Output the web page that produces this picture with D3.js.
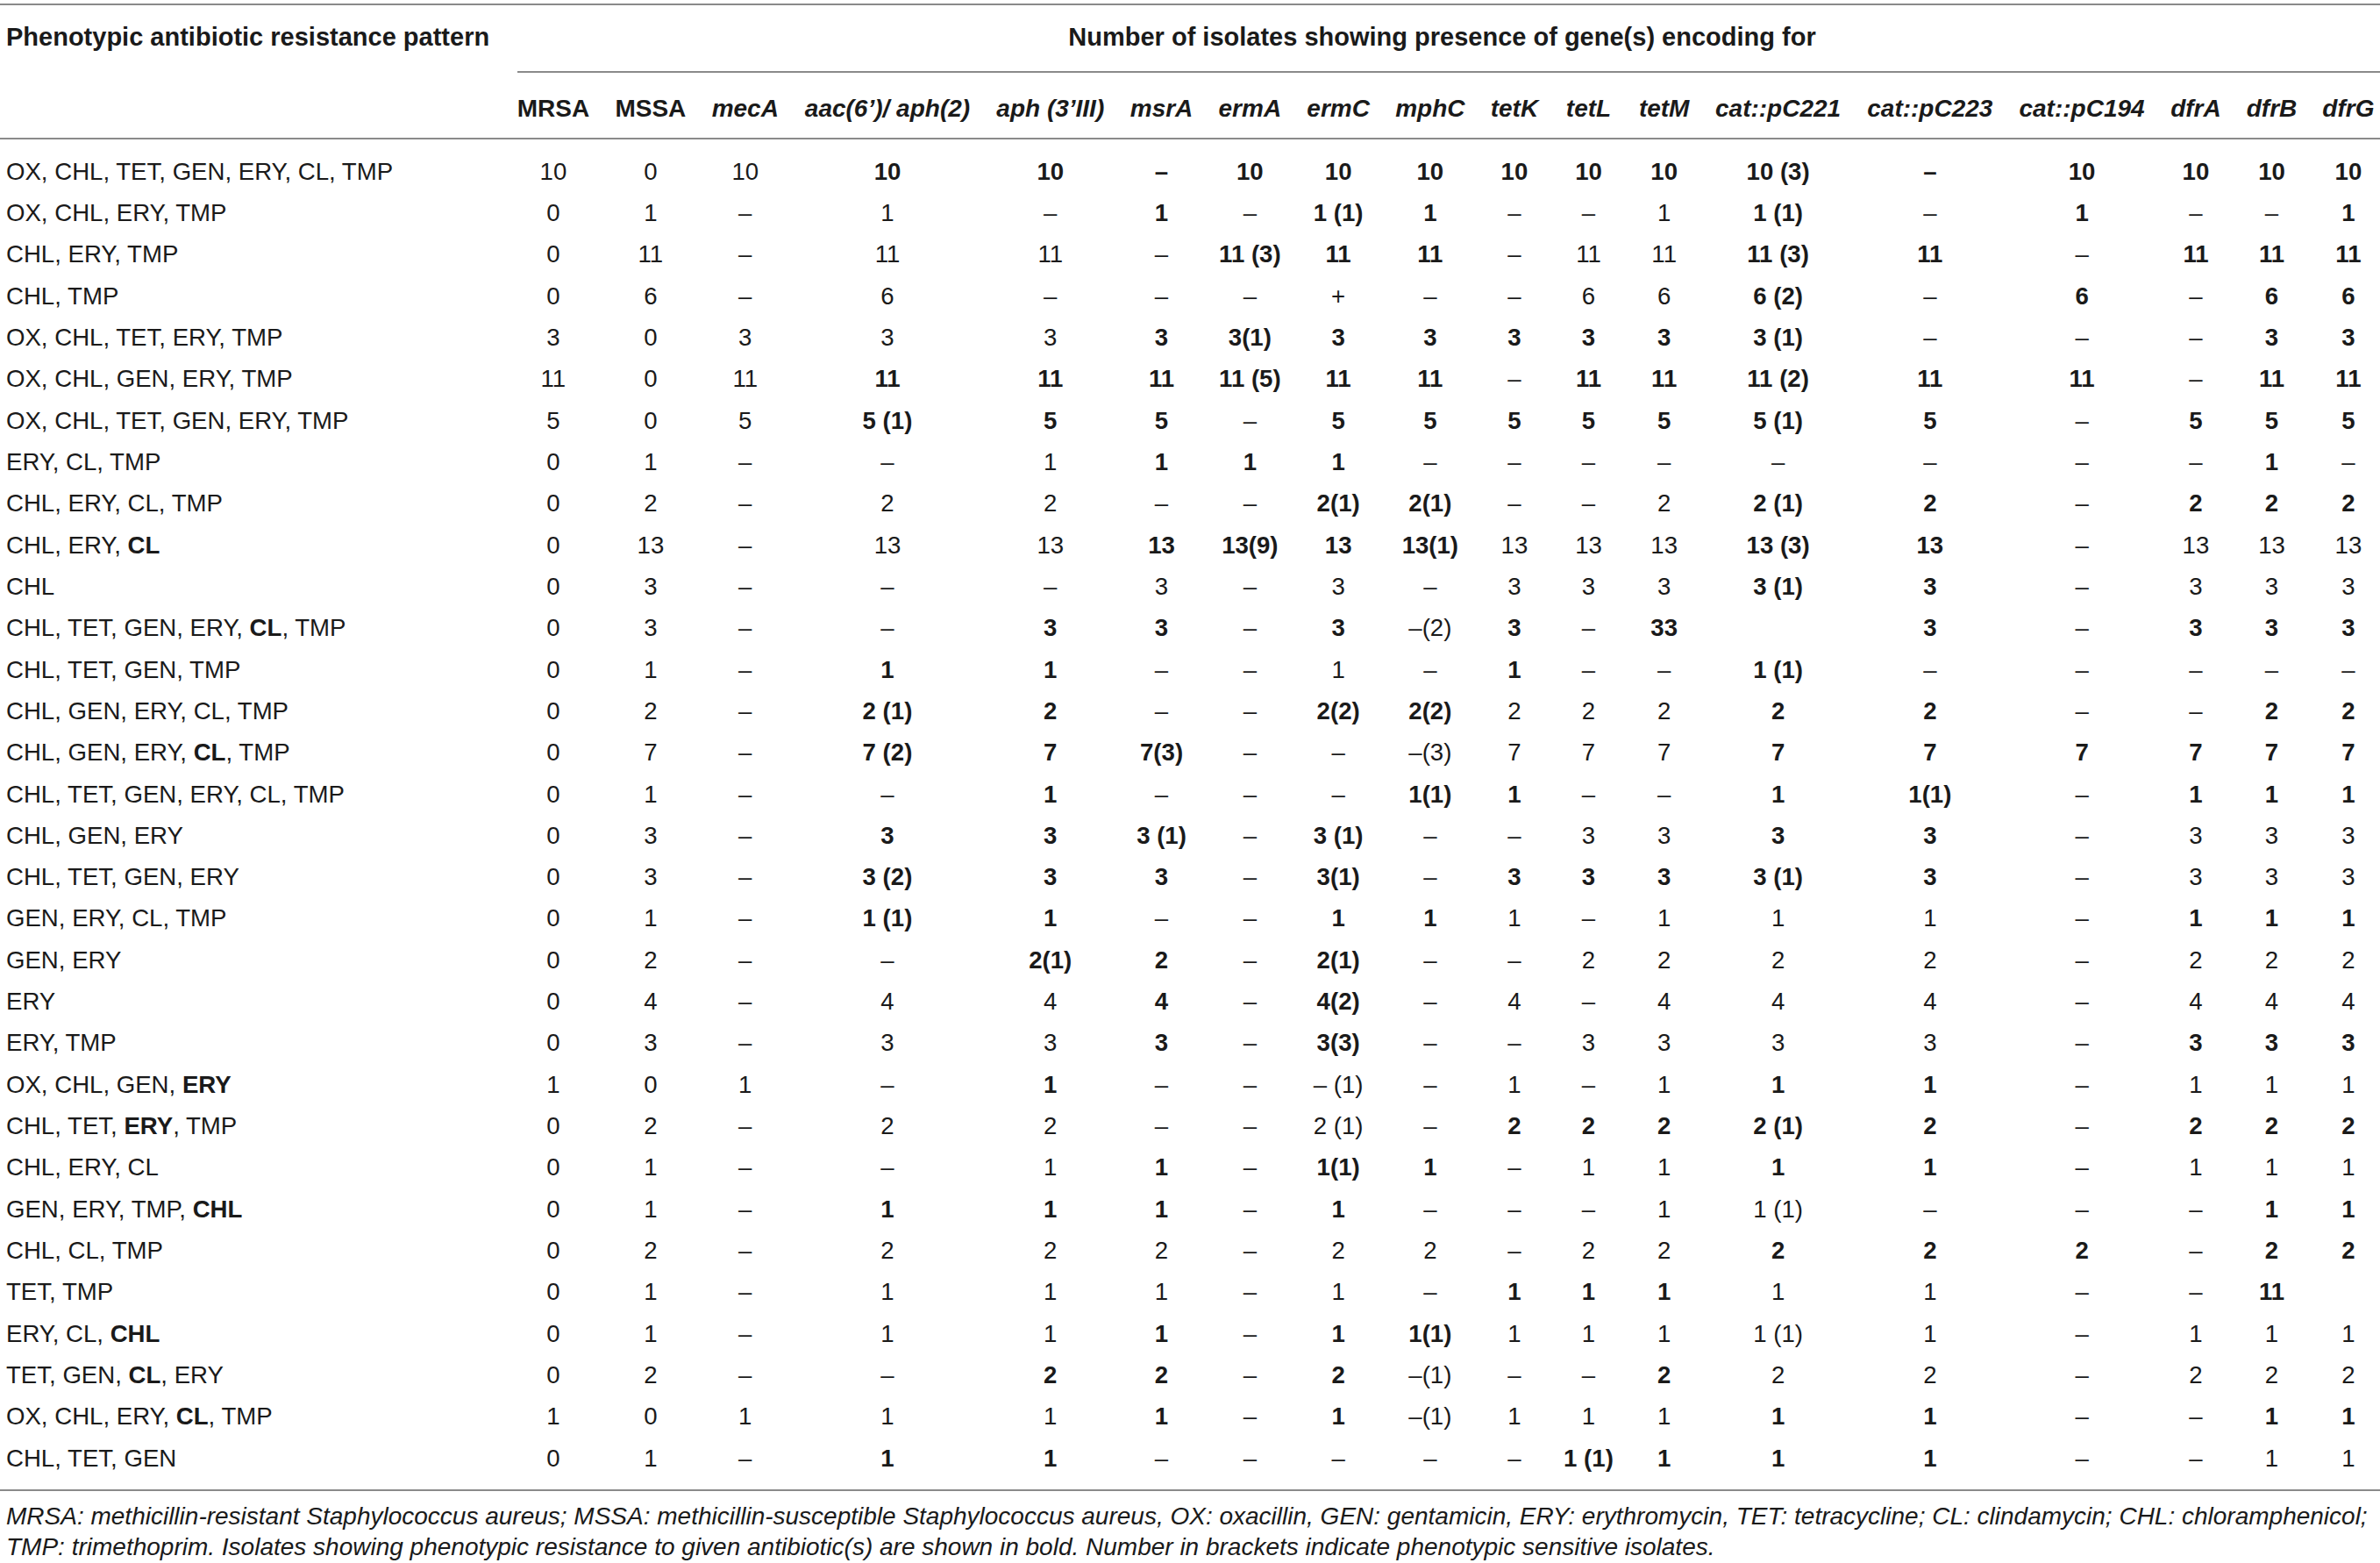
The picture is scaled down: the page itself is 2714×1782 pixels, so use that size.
<!DOCTYPE html>
<html>
<head>
<meta charset="utf-8">
<script src="https://d3js.org/d3.v7.min.js"></script>
<style>
  body { margin: 0; background: #fff; }
  svg { display: block; }
</style>
</head>
<body>
<div id="container"></div>
<script>
// table content
var patterns = [
  "OX, CHL, TET, GEN, ERY, CL, TMP",
  "OX, CHL, ERY, TMP",
  "CHL, ERY, TMP",
  "CHL, TMP",
  "OX, CHL, TET, ERY, TMP",
  "OX, CHL, GEN, ERY, TMP",
  "OX, CHL, TET, GEN, ERY, TMP",
  "ERY, CL, TMP",
  "CHL, ERY, CL, TMP",
  "CHL, ERY, *CL*",
  "CHL",
  "CHL, TET, GEN, ERY, *CL*, TMP",
  "CHL, TET, GEN, TMP",
  "CHL, GEN, ERY, CL, TMP",
  "CHL, GEN, ERY, *CL*, TMP",
  "CHL, TET, GEN, ERY, CL, TMP",
  "CHL, GEN, ERY",
  "CHL, TET, GEN, ERY",
  "GEN, ERY, CL, TMP",
  "GEN, ERY",
  "ERY",
  "ERY, TMP",
  "OX, CHL, GEN, *ERY*",
  "CHL, TET, *ERY*, TMP",
  "CHL, ERY, CL",
  "GEN, ERY, TMP, *CHL*",
  "CHL, CL, TMP",
  "TET, TMP",
  "ERY, CL, *CHL*",
  "TET, GEN, *CL*, ERY",
  "OX, CHL, ERY, *CL*, TMP",
  "CHL, TET, GEN"
];

var mrsa = [10, 0, 0, 0, 3, 11, 5, 0, 0, 0, 0, 0, 0, 0, 0, 0, 0, 0, 0, 0, 0, 0, 1, 0, 0, 0, 0, 0, 0, 0, 1, 0];
var mssa = [0, 1, 11, 6, 0, 0, 0, 1, 2, 13, 3, 3, 1, 2, 7, 1, 3, 3, 1, 2, 4, 3, 0, 2, 1, 1, 2, 1, 1, 2, 0, 1];

var genes = ["mecA", "aac(6’)/ aph(2)", "aph (3’III)", "msrA", "ermA", "ermC", "mphC", "tetK", "tetL", "tetM",
  "cat::pC221", "cat::pC223", "cat::pC194", "dfrA", "dfrB", "dfrG"];

// "*" = phenotypic resistance (bold)
var geneCells = [
  ["10", "*10", "*10", "*–", "*10", "*10", "*10", "*10", "*10", "*10", "*10 (3)", "*–", "*10", "*10", "*10", "*10"],
  ["–", "1", "–", "*1", "–", "*1 (1)", "*1", "–", "–", "1", "*1 (1)", "–", "*1", "–", "–", "*1"],
  ["–", "11", "11", "–", "*11 (3)", "*11", "*11", "–", "11", "11", "*11 (3)", "*11", "–", "*11", "*11", "*11"],
  ["–", "6", "–", "–", "–", "+", "–", "–", "6", "6", "*6 (2)", "–", "*6", "–", "*6", "*6"],
  ["3", "3", "3", "*3", "*3(1)", "*3", "*3", "*3", "*3", "*3", "*3 (1)", "–", "–", "–", "*3", "*3"],
  ["11", "*11", "*11", "*11", "*11 (5)", "*11", "*11", "–", "*11", "*11", "*11 (2)", "*11", "*11", "–", "*11", "*11"],
  ["5", "*5 (1)", "*5", "*5", "–", "*5", "*5", "*5", "*5", "*5", "*5 (1)", "*5", "–", "*5", "*5", "*5"],
  ["–", "–", "1", "*1", "*1", "*1", "–", "–", "–", "–", "–", "–", "–", "–", "*1", "–"],
  ["–", "2", "2", "–", "–", "*2(1)", "*2(1)", "–", "–", "2", "*2 (1)", "*2", "–", "*2", "*2", "*2"],
  ["–", "13", "13", "*13", "*13(9)", "*13", "*13(1)", "13", "13", "13", "*13 (3)", "*13", "–", "13", "13", "13"],
  ["–", "–", "–", "3", "–", "3", "–", "3", "3", "3", "*3 (1)", "*3", "–", "3", "3", "3"],
  ["–", "–", "*3", "*3", "–", "*3", "–(2)", "*3", "–", "*33", "", "*3", "–", "*3", "*3", "*3"],
  ["–", "*1", "*1", "–", "–", "1", "–", "*1", "–", "–", "*1 (1)", "–", "–", "–", "–", "–"],
  ["–", "*2 (1)", "*2", "–", "–", "*2(2)", "*2(2)", "2", "2", "2", "*2", "*2", "–", "–", "*2", "*2"],
  ["–", "*7 (2)", "*7", "*7(3)", "–", "–", "–(3)", "7", "7", "7", "*7", "*7", "*7", "*7", "*7", "*7"],
  ["–", "–", "*1", "–", "–", "–", "*1(1)", "*1", "–", "–", "*1", "*1(1)", "–", "*1", "*1", "*1"],
  ["–", "*3", "*3", "*3 (1)", "–", "*3 (1)", "–", "–", "3", "3", "*3", "*3", "–", "3", "3", "3"],
  ["–", "*3 (2)", "*3", "*3", "–", "*3(1)", "–", "*3", "*3", "*3", "*3 (1)", "*3", "–", "3", "3", "3"],
  ["–", "*1 (1)", "*1", "–", "–", "*1", "*1", "1", "–", "1", "1", "1", "–", "*1", "*1", "*1"],
  ["–", "–", "*2(1)", "*2", "–", "*2(1)", "–", "–", "2", "2", "2", "2", "–", "2", "2", "2"],
  ["–", "4", "4", "*4", "–", "*4(2)", "–", "4", "–", "4", "4", "4", "–", "4", "4", "4"],
  ["–", "3", "3", "*3", "–", "*3(3)", "–", "–", "3", "3", "3", "3", "–", "*3", "*3", "*3"],
  ["1", "–", "*1", "–", "–", "– (1)", "–", "1", "–", "1", "*1", "*1", "–", "1", "1", "1"],
  ["–", "2", "2", "–", "–", "2 (1)", "–", "*2", "*2", "*2", "*2 (1)", "*2", "–", "*2", "*2", "*2"],
  ["–", "–", "1", "*1", "–", "*1(1)", "*1", "–", "1", "1", "*1", "*1", "–", "1", "1", "1"],
  ["–", "*1", "*1", "*1", "–", "*1", "–", "–", "–", "1", "1 (1)", "–", "–", "–", "*1", "*1"],
  ["–", "2", "2", "2", "–", "2", "2", "–", "2", "2", "*2", "*2", "*2", "–", "*2", "*2"],
  ["–", "1", "1", "1", "–", "1", "–", "*1", "*1", "*1", "1", "1", "–", "–", "*11", ""],
  ["–", "1", "1", "*1", "–", "*1", "*1(1)", "1", "1", "1", "1 (1)", "1", "–", "1", "1", "1"],
  ["–", "–", "*2", "*2", "–", "*2", "–(1)", "–", "–", "*2", "2", "2", "–", "2", "2", "2"],
  ["1", "1", "1", "*1", "–", "*1", "–(1)", "1", "1", "1", "*1", "*1", "–", "–", "*1", "*1"],
  ["–", "*1", "*1", "–", "–", "–", "–", "–", "*1 (1)", "*1", "*1", "*1", "–", "–", "1", "1"]
];

var patternTitle = "Phenotypic antibiotic resistance pattern";
var groupTitle = "Number of isolates showing presence of gene(s) encoding for";
var footnotes = [
  "MRSA: methicillin-resistant Staphylococcus aureus; MSSA: methicillin-susceptible Staphylococcus aureus, OX: oxacillin, GEN: gentamicin, ERY: erythromycin, TET: tetracycline; CL: clindamycin; CHL: chloramphenicol;",
  "TMP: trimethoprim. Isolates showing phenotypic resistance to given antibiotic(s) are shown in bold. Number in brackets indicate phenotypic sensitive isolates."
];
</script>

<script>
var width = 2714, height = 1782;
var font = "'Liberation Sans', Arial, Helvetica, sans-serif";
var bodySize = 27.6, headSize = 28, titleSize = 29;
var ink = "#1a1a1a", rule = "#8a8a8a";

var headers = ["MRSA", "MSSA"].concat(genes);
var rows = patterns.map(function(p, i) {
  return { pattern: p, cells: [String(mrsa[i]), String(mssa[i])].concat(geneCells[i]) };
});

var svg = d3.select("div#container")
  .append("svg")
  .attr("width", width)
  .attr("height", height)
  .attr("font-family", font);

// measure text to size columns like an auto table layout
var probe = svg.append("text").attr("visibility", "hidden");
function textWidth(str, size, weight, style) {
  probe.attr("font-size", size).attr("font-weight", weight).attr("font-style", style).text(str);
  return probe.node().getComputedTextLength();
}

var pad = 28;
var colWidths = headers.map(function(h, j) {
  var w = textWidth(h, headSize, "bold", j < 2 ? "normal" : "italic");
  rows.forEach(function(r) {
    var c = r.cells[j], b = c.charAt(0) === "*";
    w = Math.max(w, textWidth(b ? c.slice(1) : c, bodySize, b ? "bold" : "normal", "normal"));
  });
  return w + pad;
});
probe.remove();

var cum = d3.cumsum(colWidths);
var left = 575;
var x = d3.scaleLinear().domain([0, cum[cum.length - 1]]).range([left, width + 8]);
var colCenter = colWidths.map(function(w, j) { return x(cum[j] - w / 2); });

var y = d3.scalePoint()
  .domain(d3.range(rows.length))
  .range([195, 1662]);

// rules
var rules = [
  { x1: 0, x2: width, y: 5 },
  { x1: left + 15, x2: width, y: 82 },
  { x1: 0, x2: width, y: 158 },
  { x1: 0, x2: width, y: 1699 }
];
svg.append("g")
    .attr("stroke", rule)
    .attr("stroke-width", 2)
  .selectAll("line")
  .data(rules)
  .join("line")
    .attr("x1", d => d.x1)
    .attr("x2", d => d.x2)
    .attr("y1", d => d.y)
    .attr("y2", d => d.y);

// header
svg.append("text")
    .attr("x", 7)
    .attr("y", 42)
    .attr("dy", "0.35em")
    .attr("font-size", titleSize)
    .attr("font-weight", "bold")
    .attr("fill", ink)
    .text(patternTitle);

svg.append("text")
    .attr("x", (left + width) / 2)
    .attr("y", 42)
    .attr("dy", "0.35em")
    .attr("text-anchor", "middle")
    .attr("font-size", titleSize)
    .attr("font-weight", "bold")
    .attr("fill", ink)
    .text(groupTitle);

svg.append("g")
    .attr("font-size", headSize)
    .attr("font-weight", "bold")
    .attr("fill", ink)
    .attr("text-anchor", "middle")
  .selectAll("text")
  .data(headers)
  .join("text")
    .attr("x", (d, j) => colCenter[j])
    .attr("y", 123)
    .attr("dy", "0.35em")
    .attr("font-style", (d, j) => j < 2 ? "normal" : "italic")
    .text(d => d);

// body rows
var rowG = svg.append("g")
    .attr("font-size", bodySize)
    .attr("fill", ink)
  .selectAll("g")
  .data(rows)
  .join("g")
    .attr("transform", (d, i) => `translate(0,${y(i)})`);

rowG.append("text")
    .attr("x", 7)
    .attr("dy", "0.35em")
  .selectAll("tspan")
  .data(d => d.pattern.split("*"))
  .join("tspan")
    .attr("font-weight", (d, k) => k % 2 ? "bold" : "normal")
    .text(d => d);

rowG.selectAll("text.cell")
  .data(d => d.cells)
  .join("text")
    .attr("class", "cell")
    .attr("x", (d, j) => colCenter[j])
    .attr("dy", "0.35em")
    .attr("text-anchor", "middle")
    .attr("font-weight", d => d.charAt(0) === "*" ? "bold" : "normal")
    .text(d => d.charAt(0) === "*" ? d.slice(1) : d);

// footnote
svg.append("g")
    .attr("font-size", 28)
    .attr("font-style", "italic")
    .attr("fill", ink)
  .selectAll("text")
  .data(footnotes)
  .join("text")
    .attr("x", 7)
    .attr("y", (d, i) => 1738 + i * 35)
    .text(d => d);
</script>
</body>
</html>
